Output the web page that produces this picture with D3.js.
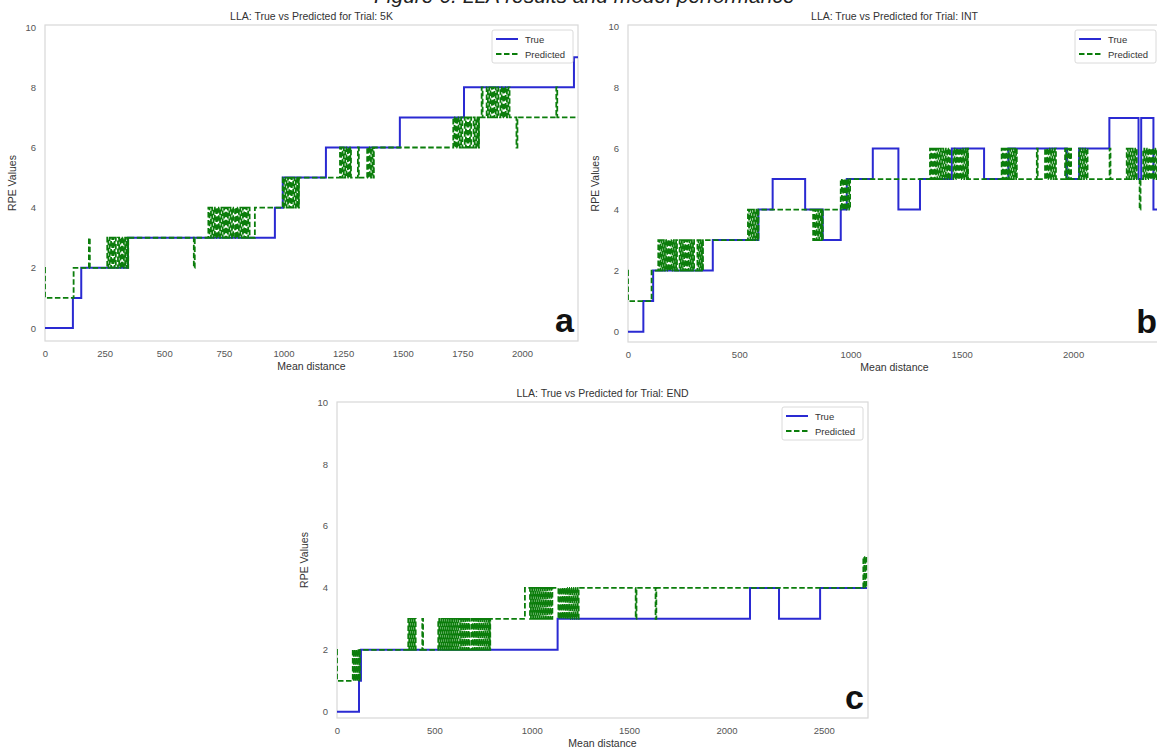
<!DOCTYPE html>
<html><head><meta charset="utf-8">
<script src="https://cdn.jsdelivr.net/npm/d3@7"></script>
<style>body{margin:0;background:#fff;} svg{display:block;font-family:"Liberation Sans",Arial,sans-serif;}</style>
</head><body><svg id="chart" width="1157" height="751"></svg>
<script>
// ---------------- data ----------------
const caption = "Figure 6. LLA results and model performance";
const trials = ["5K", "INT", "END"];
const panelLetters = ["a", "b", "c"];
const seriesNames = ["True", "Predicted"];
const yTicks = [0, 2, 4, 6, 8, 10];
const xTicksA = [0, 250, 500, 750, 1000, 1250, 1500, 1750, 2000];
const xTicksB = [0, 500, 1000, 1500, 2000];
const xTicksC = [0, 500, 1000, 1500, 2000, 2500];
const dataEnd = [2235, 2395, 2722];

// True RPE: [mean distance where step starts, value]
const trueA = [[0,0],[117,1],[152,2],[348,3],[964,4],[997,5],[1178,6],[1488,7],[1757,8],[2218,9]];
const trueB = [[0,0],[69,1],[113,2],[381,3],[586,4],[650,5],[796,4],[875,3],[956,4],[983,5],[1100,6],[1215,4],[1312,5],[1455,6],[1600,5],[1709,6],[1972,5],[2027,6],[2163,7],[2294,5],[2306,7],[2361,4]];
const trueC = [[0,0],[113,1],[123,2],[1133,3],[2121,4],[2270,3],[2481,4]];

// Predicted RPE: base levels [x, value] and rapid switches (value flips at each listed x)
const predBaseA = [[0,2],[0.01,1],[120,2],[349,3],[880,4],[1065,5],[1379,6],[1820,7]];
const predSwitchA = [
  {from:2,to:3,xs:[184,188]},
  {from:2,to:3,xs:[261,266,271,277,282,287,292,297,306,311,316,321,326,331,336,341,345,348]},
  {from:3,to:2,xs:[624,628]},
  {from:3,to:4,xs:[685,690,696,701,707,712,718,723,729,734,740,745,751,756,762,767,773,778,784,789]},
  {from:3,to:4,xs:[797,802,808,813,819,824,830,835,841,846,852,858]},
  {from:4,to:5,xs:[997,1002,1008,1013,1019,1024,1030,1035,1041,1046,1052,1057,1061,1064]},
  {from:5,to:6,xs:[1237,1242,1248,1253,1259,1264,1270,1275,1280,1283]},
  {from:5,to:6,xs:[1312,1316]},
  {from:5,to:6,xs:[1351,1356,1362,1367,1373,1377]},
  {from:6,to:7,xs:[1712,1717,1723,1728,1734,1739,1745,1750,1760,1765,1771,1776,1782,1787,1797,1802,1808,1813,1817,1819]},
  {from:7,to:8,xs:[1831,1835]},
  {from:7,to:8,xs:[1852,1857,1863,1868,1874,1879,1885,1890,1896,1901,1910,1915,1921,1926,1932,1937,1943,1948]},
  {from:7,to:6,xs:[1977,1981]},
  {from:7,to:8,xs:[2144,2148]}
];
const predBaseB = [[0,2],[0.01,1],[106,2],[337,3],[586,4],[998,5]];
const predSwitchB = [
  {from:2,to:3,xs:[136,141,146,151,156,161,166,171,176,181,186,191,196,201,206,211,216,220]},
  {from:2,to:3,xs:[232,237,242,247,252,257,262,267,272,277,282,287,292,297]},
  {from:2,to:3,xs:[312,317,322,327,332,336]},
  {from:3,to:4,xs:[539,544,550,555,561,566,572,577,582,585]},
  {from:4,to:3,xs:[832,837,843,848,854,859,865,870,873,875]},
  {from:4,to:5,xs:[956,961,967,972,978,983,989,994]},
  {from:5,to:6,xs:[1357,1362,1368,1373,1379,1384,1390,1395,1401,1406,1412,1417,1423,1428,1434,1439,1444,1447]},
  {from:5,to:6,xs:[1462,1467,1473,1478,1484,1489,1495,1500,1506,1511,1517,1522,1526,1528]},
  {from:5,to:6,xs:[1679,1684,1690,1695,1701,1706,1712,1717,1723,1728,1734,1739,1744,1747]},
  {from:5,to:6,xs:[1837,1841]},
  {from:5,to:6,xs:[1874,1879,1885,1890,1896,1901,1907,1912,1918,1923]},
  {from:5,to:6,xs:[1964,1969,1975,1980,1986,1991]},
  {from:5,to:6,xs:[2027,2032,2038,2043,2049,2054,2060,2065]},
  {from:5,to:6,xs:[2164,2168]},
  {from:5,to:6,xs:[2241,2246,2252,2257,2263,2268,2274,2279,2284,2286]},
  {from:5,to:4,xs:[2299,2303]},
  {from:5,to:6,xs:[2315,2320,2326,2331,2337,2342,2348,2353,2359,2364,2370,2375,2381,2386]}
];
const predBaseC = [[0,2],[0.01,1],[118,2],[787,3],[965,4]];
const predSwitchC = [
  {from:1,to:2,xs:[81,86,91,96,101,106,111,116]},
  {from:2,to:3,xs:[366,371,377,382,388,393,399,404]},
  {from:2,to:3,xs:[438,442]},
  {from:2,to:3,xs:[520,525,531,536,542,547,553,558,564,569,575,580,586,591,597,602,608,613,619,624]},
  {from:2,to:3,xs:[632,637,643,648,654,659,665,670,676,681]},
  {from:2,to:3,xs:[692,697,703,708,714,719,725,730,736,741,747,752,758,763,769,774,780,785]},
  {from:4,to:3,xs:[991,996,1002,1007,1013,1018,1024,1029,1035,1040,1046,1051,1057,1062,1068,1073,1079,1084,1090,1095,1101,1106]},
  {from:4,to:3,xs:[1137,1142,1148,1153,1159,1164,1170,1175,1181,1186,1192,1197,1203,1208,1214,1219,1225,1230,1236,1241]},
  {from:4,to:3,xs:[1534,1538]},
  {from:4,to:3,xs:[1636,1640]},
  {from:4,to:5,xs:[2703,2708,2713,2718]}
];

// ---------------- layout ----------------
const svg = d3.select("#chart");
const BLUE = "#2a2ad2", GREEN = "#0b7d0b";

svg.append("text").attr("x", 374).attr("y", 3)
  .attr("font-size", 21).attr("font-style", "italic").attr("fill", "#222")
  .text(caption);

const panels = [
  {left:45, right:578, top:25, bottom:341, yDom:[-0.43,10.07], xMax:2235, ticks:xTicksA, tru:trueA, base:predBaseA, sw:predSwitchA},
  {left:628, right:1161, top:25, bottom:342, yDom:[-0.34,10.05], xMax:2395, ticks:xTicksB, tru:trueB, base:predBaseB, sw:predSwitchB},
  {left:337, right:868, top:402, bottom:718, yDom:[-0.2,10.0], xMax:2727, ticks:xTicksC, tru:trueC, base:predBaseC, sw:predSwitchC}
];

function buildPred(base, sw, end) {
  const ev = base.map(([x, y], i) => ({x, y, o: i}));
  sw.forEach((b, bi) => b.xs.forEach((x, i) => ev.push({x, y: i % 2 === 0 ? b.to : b.from, o: 1000 + bi * 100 + i})));
  ev.sort((p, q) => p.x - q.x || p.o - q.o);
  const pts = ev.map(e => [e.x, e.y]);
  pts.push([end, pts[pts.length - 1][1]]);
  return pts;
}

panels.forEach((p, k) => {
  const g = svg.append("g");
  const x = d3.scaleLinear().domain([0, p.xMax]).range([p.left, p.right]);
  const y = d3.scaleLinear().domain(p.yDom).range([p.bottom, p.top]);
  const cx = (p.left + p.right) / 2;

  g.append("rect").attr("x", p.left).attr("y", p.top)
    .attr("width", p.right - p.left).attr("height", p.bottom - p.top)
    .attr("fill", "#fff").attr("stroke", "#d8d8d8").attr("stroke-width", 1.2);

  const ya = g.append("g").attr("transform", `translate(${p.left - 4},0)`)
    .call(d3.axisLeft(y).tickValues(yTicks).tickSize(0).tickPadding(5).tickFormat(d3.format("d")));
  const xa = g.append("g").attr("transform", `translate(0,${p.bottom + 4})`)
    .call(d3.axisBottom(x).tickValues(p.ticks).tickSize(0).tickPadding(5).tickFormat(d3.format("d")));
  [ya, xa].forEach(a => {
    a.select(".domain").remove();
    a.selectAll("text").attr("fill", "#555").attr("font-size", 9.5).attr("font-family", "Liberation Sans, Arial, sans-serif");
  });

  g.append("text").attr("x", cx).attr("y", p.top - 5).attr("text-anchor", "middle")
    .attr("font-size", 10.5).attr("fill", "#333").text("LLA: True vs Predicted for Trial: " + trials[k]);
  g.append("text").attr("x", cx).attr("y", p.bottom + 29).attr("text-anchor", "middle")
    .attr("font-size", 10.5).attr("fill", "#333").text("Mean distance");
  g.append("text").attr("transform", `translate(${p.left - 29},${(p.top + p.bottom) / 2}) rotate(-90)`)
    .attr("text-anchor", "middle").attr("font-size", 10.5).attr("fill", "#333").text("RPE Values");

  const cid = "clip" + k;
  svg.append("clipPath").attr("id", cid).append("rect")
    .attr("x", p.left).attr("y", p.top).attr("width", p.right - p.left).attr("height", p.bottom - p.top);
  const plot = g.append("g").attr("clip-path", `url(#${cid})`);
  const line = d3.line().x(d => x(d[0])).y(d => y(d[1])).curve(d3.curveStepAfter);

  const tpts = p.tru.slice();
  tpts.push([dataEnd[k], tpts[tpts.length - 1][1]]);
  plot.append("path").attr("d", line(tpts)).attr("fill", "none")
    .attr("stroke", BLUE).attr("stroke-width", 2);
  const ppts = buildPred(p.base, p.sw, dataEnd[k]);
  plot.append("path").attr("d", line(ppts)).attr("fill", "none")
    .attr("stroke", GREEN).attr("stroke-width", 1.8).attr("stroke-dasharray", "5.5,2.5");

  const lx = p.right - 86, ly = p.top + 5;
  const lg = g.append("g");
  lg.append("rect").attr("x", lx).attr("y", ly).attr("width", 81).attr("height", 33).attr("rx", 2)
    .attr("fill", "#fff").attr("fill-opacity", 0.85).attr("stroke", "#d0d0d0").attr("stroke-width", 0.8);
  seriesNames.forEach((nm, i) => {
    const yy = ly + 9 + i * 15;
    lg.append("line").attr("x1", lx + 4).attr("x2", lx + 26).attr("y1", yy).attr("y2", yy)
      .attr("stroke", i === 0 ? BLUE : GREEN).attr("stroke-width", i === 0 ? 2 : 1.8)
      .attr("stroke-dasharray", i === 0 ? null : "5.5,2.5");
    lg.append("text").attr("x", lx + 33).attr("y", yy + 3.5).attr("font-size", 9.5).attr("fill", "#333").text(nm);
  });

  g.append("text").attr("x", p.right - 4).attr("y", p.bottom - 9).attr("text-anchor", "end")
    .attr("font-size", 34).attr("font-weight", "bold").attr("fill", "#111").text(panelLetters[k]);
});
</script></body></html>
